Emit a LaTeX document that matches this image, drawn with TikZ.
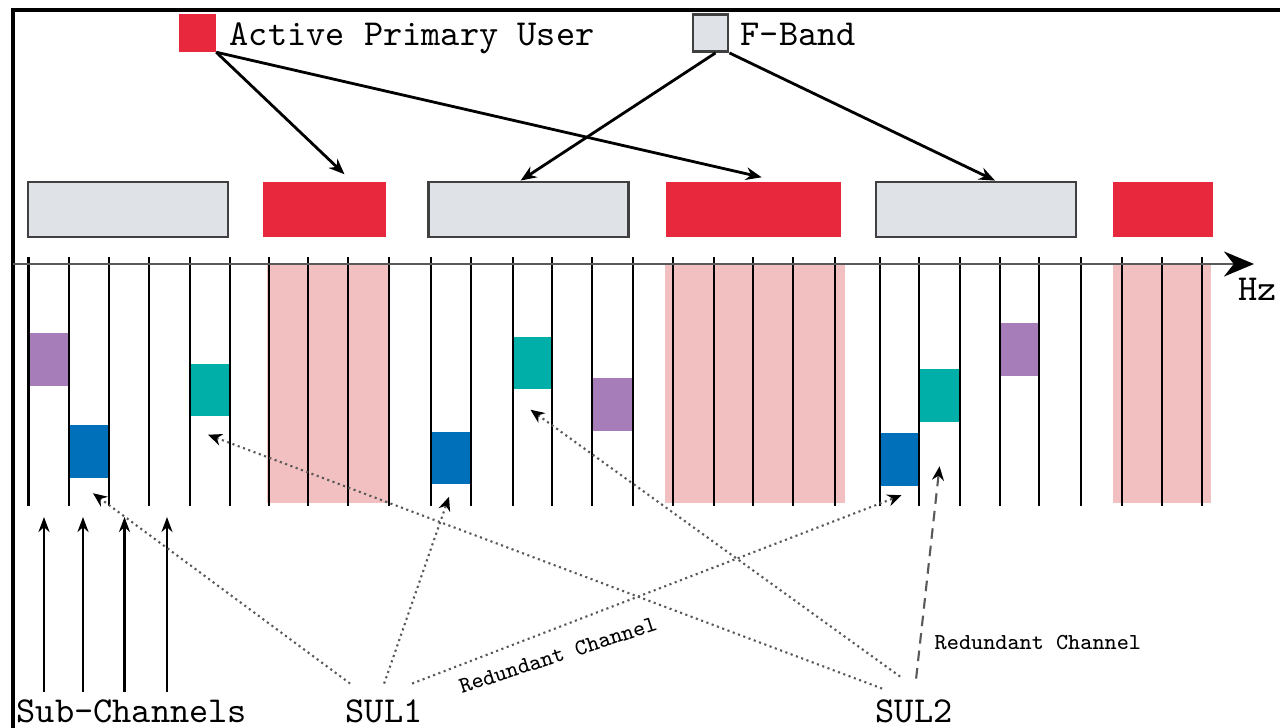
\documentclass[tikz,border=0pt]{standalone}
\usepackage{xcolor}
\usepackage{tikz}
\usetikzlibrary{positioning,arrows.meta}

\definecolor{pured}{HTML}{E8283C}
\definecolor{fbgrey}{HTML}{DFE2E6}
\definecolor{pinkbg}{HTML}{F2C0C0}
\definecolor{chpurple}{HTML}{A77DB9}
\definecolor{chblue}{HTML}{0070BA}
\definecolor{chteal}{HTML}{00B0A8}

\begin{document}
\begin{tikzpicture}[x=0.01cm, y=-0.01cm, font=\fontsize{10.4}{12}\ttfamily,
  >={Stealth[length=4.5pt,width=3.6pt]},
  fband/.style={draw=black!75, line width=0.8pt, fill=fbgrey, minimum height=0.55cm, inner sep=0},
  puband/.style={fill=pured, minimum height=0.55cm, inner sep=0},
  subch/.style={minimum width=0.4cm, minimum height=0.52cm, inner sep=0},
  lbl/.style={inner sep=0},
  redlbl/.style={font=\fontsize{6.5}{8}\ttfamily, inner sep=0},
  redund/.style={densely dotted, black!65, line width=0.6pt, -{Stealth[length=4pt,width=3.4pt,black]}}]
\useasboundingbox (0,0) rectangle (1280,727);
\draw[line width=1.2pt] (12.7,740) -- (12.7,10) -- (1290,10);

% legend
\node[puband, minimum width=0.36cm, minimum height=0.37cm] (puleg) at (197.5,33) {};
\node[lbl, anchor=base west] (pulab) at (229,45) {Active Primary User};
\node[fband, minimum width=0.35cm, minimum height=0.37cm] (fbleg) at (710.5,33) {};
\node[lbl, anchor=base west] (fblab) at (740,45) {F-Band};

% bands
\node[fband, minimum width=2.0cm] (fb1) at (128,209.5) {};
\node[puband, minimum width=1.23cm] (pu1) at (324.5,209.5) {};
\node[fband, minimum width=2.0cm] (fb2) at (528.6,209.5) {};
\node[puband, minimum width=1.75cm] (pu2) at (753.7,209.5) {};
\node[fband, minimum width=2.0cm] (fb3) at (976,209.5) {};
\node[puband, minimum width=0.99cm] (pu3) at (1163,209.5) {};
\draw[->, line width=0.8pt] (puleg.south east) -- ([shift={(20,-7)}]pu1.north);
\draw[->, line width=0.8pt] (puleg.south east) -- ([shift={(8,-4)}]pu2.north);
\draw[->, line width=0.8pt] ([shift={(5,0)}]fbleg.south) -- ([shift={(-8,0)}]fb2.north);
\draw[->, line width=0.8pt] (fbleg.south east) -- ([shift={(19,0)}]fb3.north);

% spectrum
\fill[pinkbg] (267,264) rectangle (390,503);
\fill[pinkbg] (665,264) rectangle (845,503);
\fill[pinkbg] (1113,264) rectangle (1211,503);
\node[subch, fill=chpurple] (pa) at (49,359.5) {};
\node[subch, fill=chblue] (ba) at (89,451.5) {};
\node[subch, fill=chteal] (ta) at (210,390) {};
\node[subch, fill=chblue] (bb) at (451,458) {};
\node[subch, fill=chteal] (tb) at (532.5,363) {};
\node[subch, fill=chpurple] (pb) at (612.5,404.5) {};
\node[subch, fill=chblue] (bc) at (899.5,459.5) {};
\node[subch, fill=chteal] (tc) at (939.5,395.5) {};
\node[subch, fill=chpurple] (pc) at (1019.5,349.5) {};
\foreach \x in {28.6,69,109,149,190,230,269,308,348,389,431,471,513,552,592,633,673,714,753,793,835,880,919,960,1000,1039,1081,1122,1162,1202}
  \draw[line width=0.7pt] (\x,257) -- (\x,506);
\coordinate (ax0) at (12.7,264);
\coordinate (ax1) at (1254,264);
\draw[black!65, line width=0.8pt, -{Stealth[length=0.3cm,width=0.25cm,black]}] (ax0) -- (ax1);
\node[lbl, anchor=base west] (hz) at (1238,300) {Hz};

% users
\node[lbl, inner ysep=0.07cm, anchor=base west] (subl) at (16,722) {Sub-Channels};
\node[lbl, inner ysep=0.15cm, anchor=base west] (sul1) at (345,722) {SUL1};
\node[lbl, inner ysep=0.15cm, anchor=base west] (sul2) at (875,722) {SUL2};
\foreach \x [count=\i] in {44,83,124.5,167} {
  \coordinate (sc\i) at (\x,517);
  \draw[line width=0.8pt, -{Stealth[length=0.15cm,width=0.11cm]}] (sc\i |- subl.north) -- (sc\i);
}
\draw[redund] ([shift={(-34,0)}]sul1.north) -- ([shift={(4,15)}]ba.south);
\draw[redund] (sul1.north) -- ([shift={(-2,12)}]bb.south);
\draw[redund] ([shift={(28,0)}]sul1.north) -- ([shift={(2,9)}]bc.south);
\draw[redund] ([shift={(-32,5)}]sul2.north) -- ([shift={(-2,18)}]ta.south);
\draw[redund] ([shift={(-14,-7)}]sul2.north) -- ([shift={(-2,20)}]tb.south);
\draw[redund, dash pattern=on 3pt off 2pt] ([shift={(2,-5)}]sul2.north) -- ([shift={(0,44)}]tc.south);
\node[redlbl, rotate=18] (rc1) at (558,655) {Redundant Channel};
\node[redlbl, anchor=west] (rc2) at (934,642) {Redundant Channel};
\end{tikzpicture}
\end{document}
